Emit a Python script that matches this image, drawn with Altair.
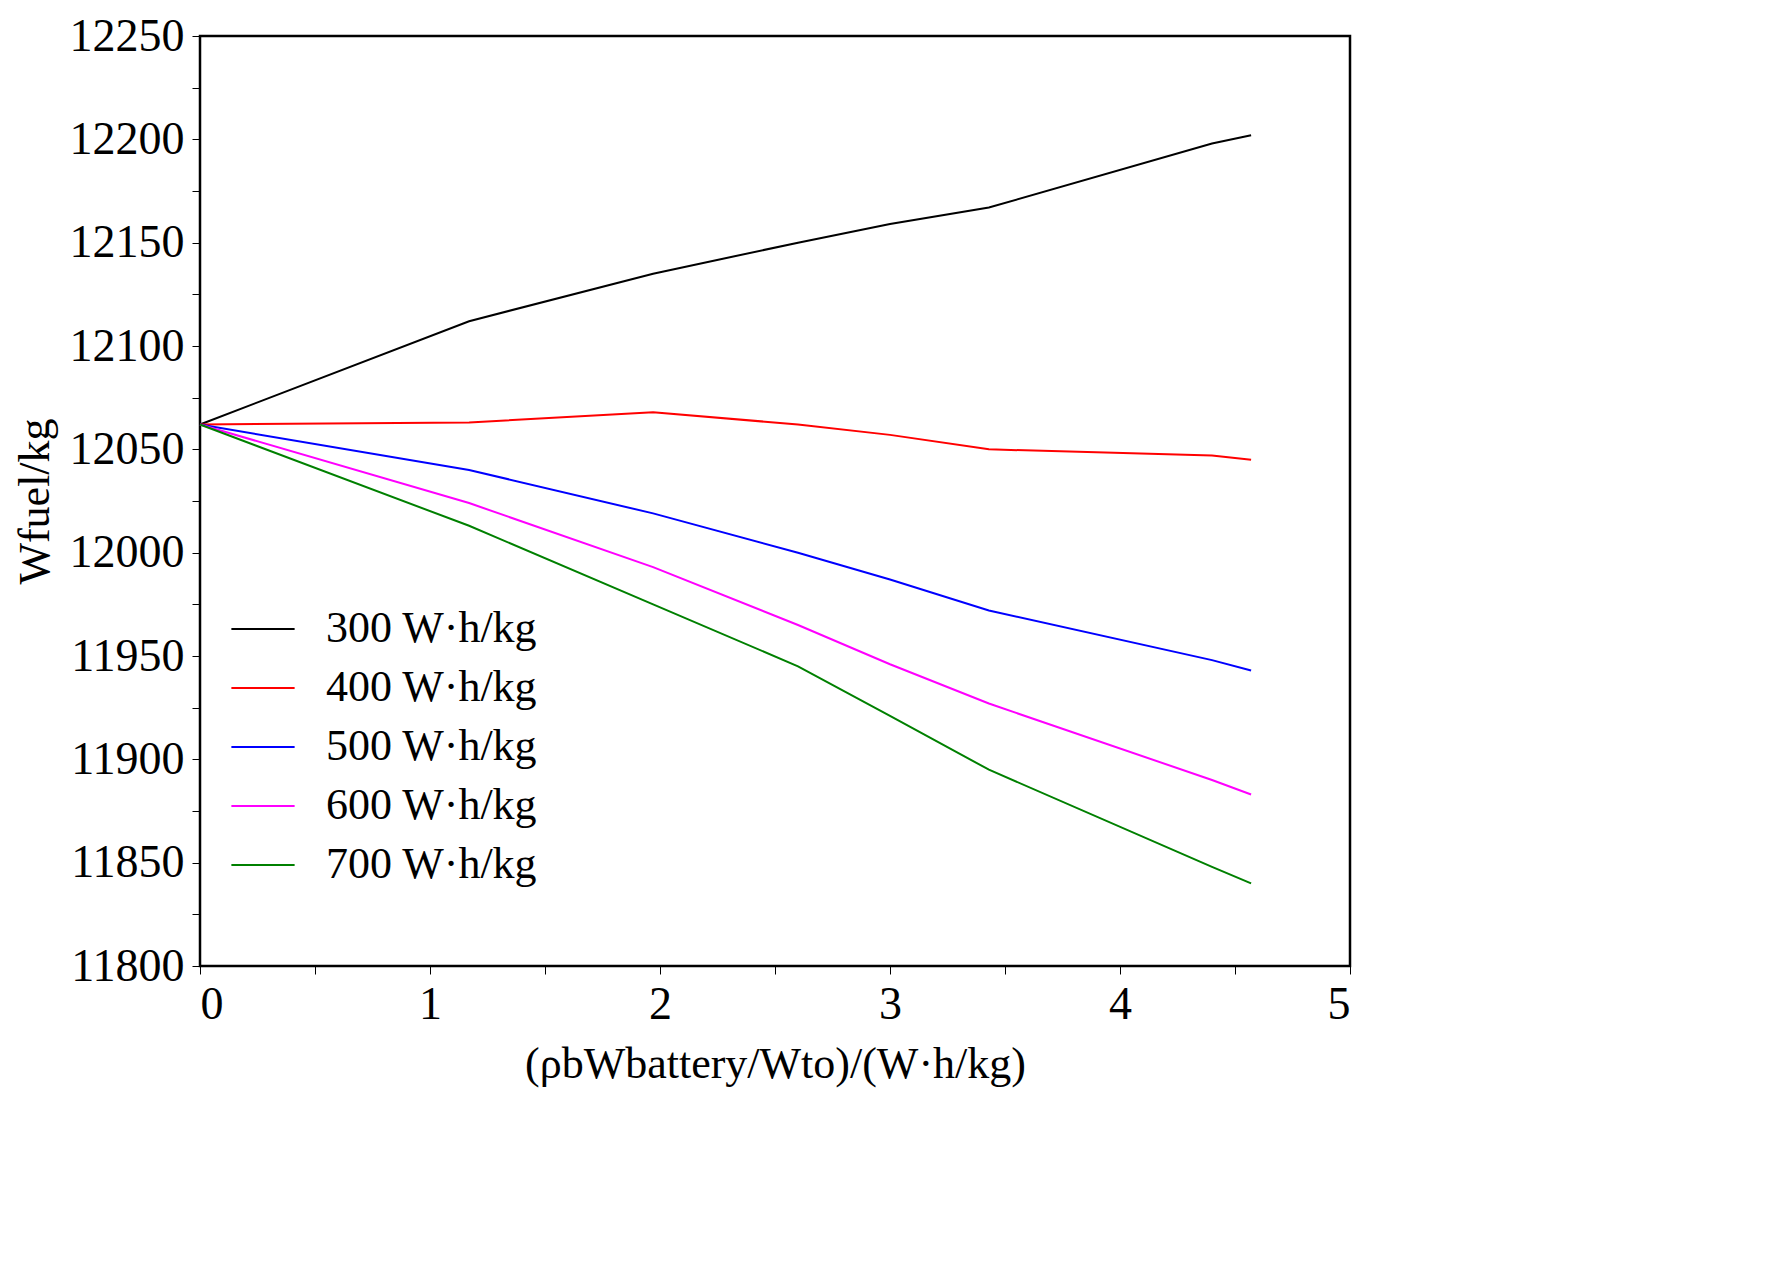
import altair as alt
import pandas as pd

series = ["300 W·h/kg", "400 W·h/kg", "500 W·h/kg", "600 W·h/kg", "700 W·h/kg"]
colors = ["#000000", "#ff0000", "#0000ff", "#ff00ff", "#008000"]
x_vals = [0, 1.17, 1.97, 2.6, 3.0, 3.43, 4.4, 4.57]
y300 = [12062, 12112, 12135, 12150, 12159, 12167, 12198, 12202]
y400 = [12062, 12063, 12068, 12062, 12057, 12050, 12047, 12045]
y500 = [12062, 12040, 12019, 12000, 11987, 11972, 11948, 11943]
y600 = [12062, 12024, 11993, 11965, 11946, 11927, 11890, 11883]
y700 = [12062, 12013, 11975, 11945, 11921, 11895, 11848, 11840]

rows = []
for name, ys in zip(series, [y300, y400, y500, y600, y700]):
    for i, (x, y) in enumerate(zip(x_vals, ys)):
        rows.append({"x": x, "y": y, "s": name, "o": i})
df = pd.DataFrame(rows)

font = "Liberation Serif"
axis_style = dict(grid=False, domain=False, tickColor="black", tickSize=8,
                  labelFontSize=46, titleFontSize=44, labelColor="black",
                  titleColor="black", labelFont=font, titleFont=font,
                  titleFontWeight="normal", labelPadding=8)
chart = alt.Chart(df).mark_line(strokeWidth=2).encode(
    x=alt.X("x:Q", scale=alt.Scale(domain=[0, 5], nice=False),
            axis=alt.Axis(title="(ρbWbattery/Wto)/(W·h/kg)",
                          values=[i * 0.5 for i in range(11)],
                          labelExpr="datum.value % 1 == 0 ? format(datum.value, 'd') : ''",
                          titlePadding=15, **axis_style)),
    y=alt.Y("y:Q", scale=alt.Scale(domain=[11800, 12250], nice=False),
            axis=alt.Axis(title="Wfuel/kg", values=list(range(11800, 12251, 25)),
                          labelExpr="datum.value % 50 == 0 ? datum.value : ''",
                          titlePadding=12, **axis_style)),
    color=alt.Color("s:N", scale=alt.Scale(domain=series, range=colors),
                    legend=alt.Legend(title=None, orient="none", legendX=30, legendY=560,
                                      symbolType="stroke", symbolSize=4000,
                                      symbolStrokeWidth=2, labelFontSize=44,
                                      labelFont=font, labelColor="black", labelLimit=0,
                                      rowPadding=4, labelOffset=30)),
    order="o:Q",
).properties(width=1150, height=930).configure_view(stroke="black", strokeWidth=2.5)

chart.save("out.html", embed_options={"renderer": "svg", "actions": False})
